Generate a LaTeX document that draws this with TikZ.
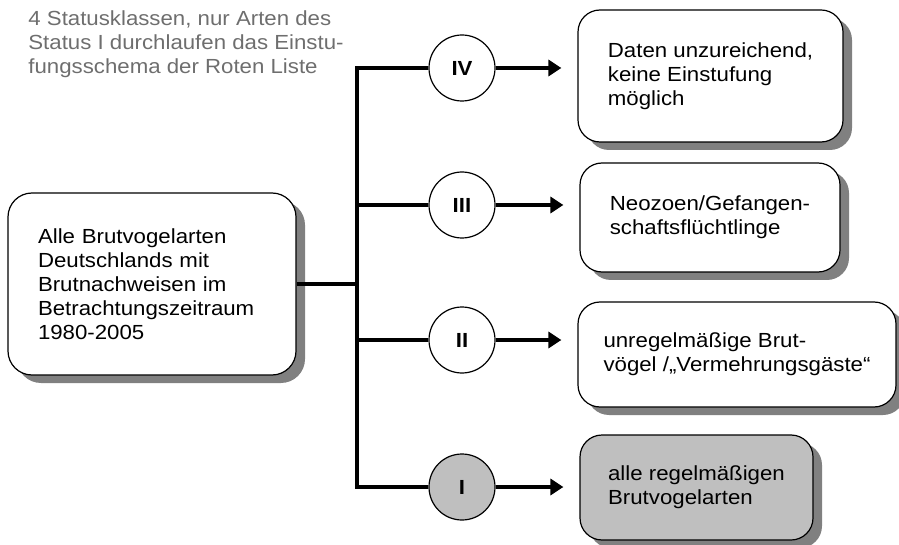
\documentclass[tikz,border=0pt]{standalone}
\usepackage{fontspec}
\setmainfont{Liberation Sans}[FakeStretch=1.09]
\usetikzlibrary{arrows.meta,shadows}
\definecolor{fillgray}{RGB}{191,191,191}
\definecolor{shadegray}{RGB}{128,128,128}
\definecolor{notegray}{RGB}{110,110,110}

\begin{document}
\begin{tikzpicture}[x=0.5pt,y=-0.5pt,
    font=\fontsize{10.2}{12}\selectfont,
    box/.style={draw,line width=0.6pt,rounded corners=11pt,fill=white,align=left,
      drop shadow={shadow xshift=4.5pt,shadow yshift=-4pt,fill=shadegray,opacity=1}},
    klasse/.style={draw,line width=0.6pt,circle,fill=white,minimum size=33pt,inner sep=0pt,
      font=\fontsize{10.2}{12}\selectfont\bfseries},
    trunk/.style={line width=2.3pt},
    arr/.style={line width=2.3pt,-{Triangle[length=6.5pt,width=8pt]},shorten >=8pt}]
      \useasboundingbox (0,0) rectangle (899,545);
      \node[anchor=north west,inner sep=0pt,align=left,text=notegray] (note) at (28,10)
        {4 Statusklassen, nur Arten des\\Status I durchlaufen das Einstu-\\fungsschema der Roten Liste};
      \node[box,minimum width=144pt,minimum height=91pt,rounded corners=12pt,text width=114pt] (alle) at (152,284)
        {Alle Brutvogelarten\\Deutschlands mit\\Brutnachweisen im\\Betrachtungszeitraum\\1980-2005};
      %
      \node[klasse] (cIV) at (462,68) {IV};
      \node[klasse] (cIII) at (462,205) {III};
      \node[klasse] (cII) at (462,340) {II};
      \node[klasse,fill=fillgray] (cI) at (462,487) {I};
      %
      \node[box,minimum width=132.5pt,minimum height=66pt] (bIV) at (710.5,76)
        {Daten unzureichend,\\keine Einstufung\\möglich};
      \node[box,minimum width=130pt,minimum height=54.5pt] (bIII) at (710,217.5)
        {Neozoen/Gefangen-\\schaftsflüchtlinge};
      \node[box,minimum width=159pt,minimum height=52.5pt] (bII) at (737,354.5)
        {unregelmäßige Brut-\\vögel /„Vermehrungsgäste“};
      \node[box,fill=fillgray,minimum width=116.5pt,minimum height=52.5pt] (bI) at (696.5,487.5)
        {alle regelmäßigen\\Brutvogelarten};
      %
      \coordinate (fork) at (357,284);
      \draw[trunk] (alle.east) -- (fork);
      \draw[trunk] (cIV.west) -| (fork) |- (cI.west);
      \draw[trunk] (cIII.west) -- (cIII.west -| fork);
      \draw[trunk] (cII.west) -- (cII.west -| fork);
      \draw[arr] (cIV.east) -- (cIV.east -| bIV.west);
      \draw[arr] (cIII.east) -- (cIII.east -| bIII.west);
      \draw[arr] (cII.east) -- (cII.east -| bII.west);
      \draw[arr] (cI.east) -- (cI.east -| bI.west);
\end{tikzpicture}
\end{document}
